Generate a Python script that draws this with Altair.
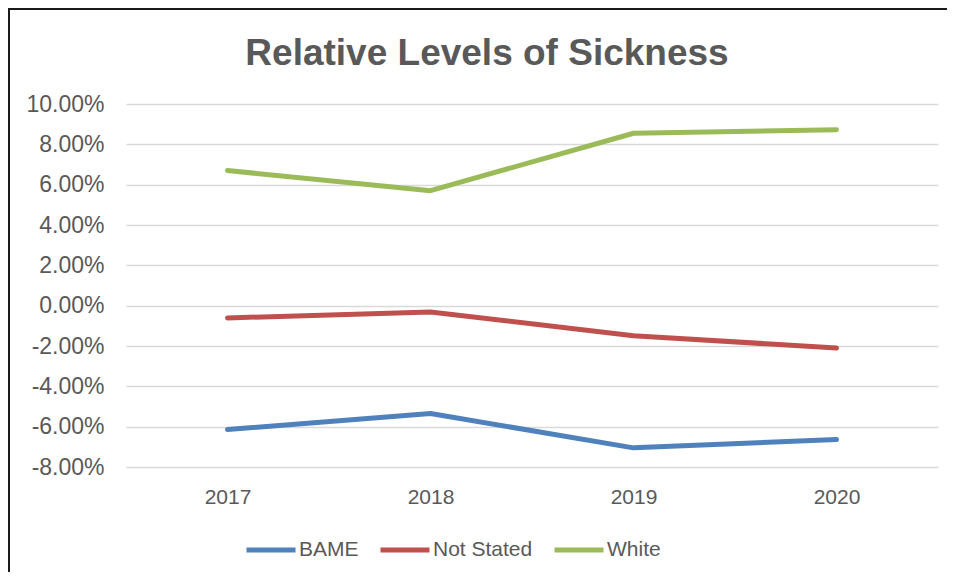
import altair as alt
import pandas as pd

years = ["2017", "2018", "2019", "2020"]
series = ["BAME", "Not Stated", "White"]
bame = [-0.0614, -0.0535, -0.0705, -0.0664]
not_stated = [-0.0061, -0.0031, -0.0149, -0.0210]
white = [0.0670, 0.0570, 0.0855, 0.0872]
colors = ["#4F81BD", "#C0504D", "#9BBB59"]
y_ticks = [-0.08, -0.06, -0.04, -0.02, 0.0, 0.02, 0.04, 0.06, 0.08, 0.10]
title_text = "Relative Levels of Sickness"

rows = []
for name, vals in zip(series, [bame, not_stated, white]):
    for yr, v in zip(years, vals):
        rows.append({"Year": yr, "Series": name, "Value": v})
df = pd.DataFrame(rows)

FONT = "Liberation Sans"
GREY = "#595959"

lines = alt.Chart(df).mark_line(strokeWidth=5, strokeCap="round", strokeJoin="round").encode(
    x=alt.X("Year:O", sort=years, scale=alt.Scale(padding=0.5),
            axis=alt.Axis(title=None, labelAngle=0, domain=False, ticks=False, tickSize=0,
                          labelFontSize=21, labelColor=GREY, labelFont=FONT,
                          labelPadding=19, grid=False)),
    y=alt.Y("Value:Q", scale=alt.Scale(domain=[-0.08, 0.10], nice=False, zero=False),
            axis=alt.Axis(title=None, values=y_ticks, domain=False,
                          labelExpr="replace(format(datum.value, '.2%'), '\u2212', '-')",
                          ticks=False, tickSize=0, labelFontSize=23, labelColor=GREY,
                          labelFont=FONT, labelPadding=22, gridColor="#D9D9D9",
                          gridWidth=1.5)),
    color=alt.Color("Series:N", sort=series, scale=alt.Scale(domain=series, range=colors),
                    legend=alt.Legend(title=None, orient="none", legendX=118, legendY=419,
                                      direction="horizontal", symbolType="stroke",
                                      symbolStrokeWidth=5, symbolSize=2401,
                                      labelFontSize=21, labelColor=GREY, labelFont=FONT,
                                      labelOffset=1, columnPadding=11))
)

frame = pd.DataFrame({"k": [0]})
title_df = pd.DataFrame({"t": [title_text]})
title = alt.Chart(title_df).mark_text(
    font=FONT, fontSize=37, fontWeight="bold", color=GREY, align="center",
    baseline="alphabetic").encode(text="t:N", x=alt.value(361), y=alt.value(-39))

top_rule = alt.Chart(frame).mark_rule(color="#1a1a1a", strokeWidth=2).encode(
    x=alt.value(-118), x2=alt.value(830), y=alt.value(-95), y2=alt.value(-95))
left_rule = alt.Chart(frame).mark_rule(color="#1a1a1a", strokeWidth=2).encode(
    x=alt.value(-117), x2=alt.value(-117), y=alt.value(-96), y2=alt.value(480))

chart = alt.layer(lines, title, top_rule, left_rule).properties(
    width=812, height=363,
    padding={"left": 118, "top": 96, "right": 9, "bottom": 105},
    autosize="none",
    background="white",
).configure_view(stroke=None)

chart.save("out.html", embed_options={"renderer": "svg", "actions": False})
